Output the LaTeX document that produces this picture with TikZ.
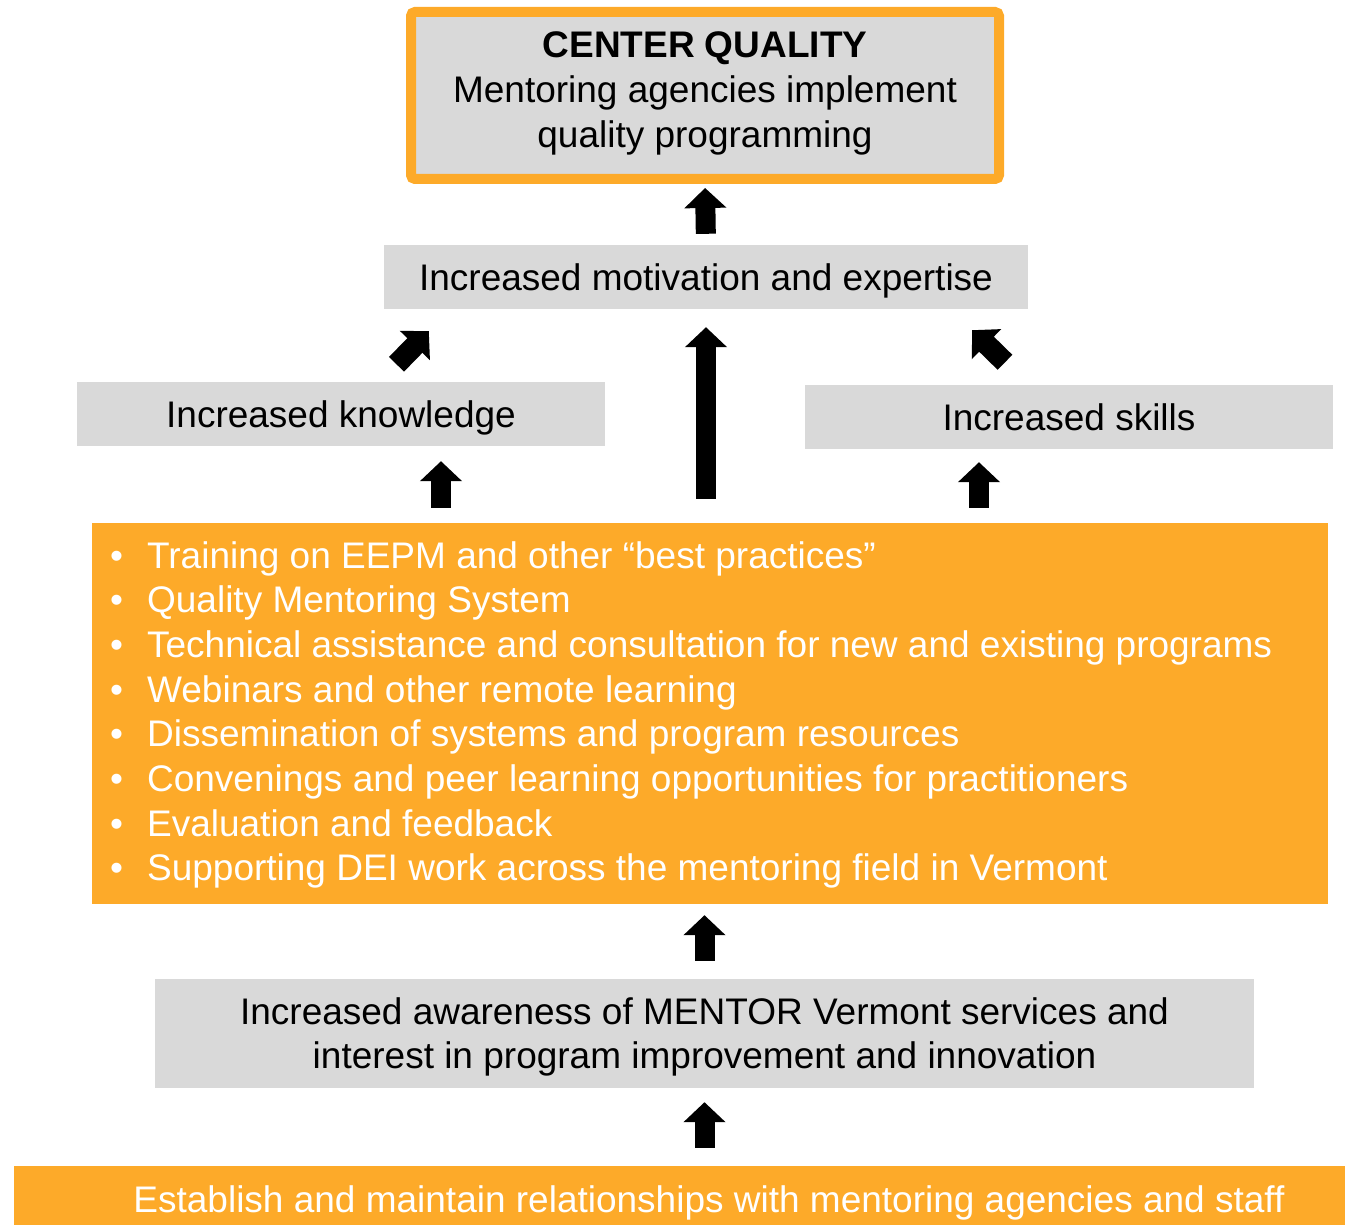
\documentclass[tikz,border=0pt]{standalone}
\usepackage{fontspec}
\setmainfont{Liberation Sans}
\usetikzlibrary{arrows.meta,calc}
\definecolor{vorange}{RGB}{253,170,41}
\definecolor{vgray}{RGB}{217,217,217}
\begin{document}
\begin{tikzpicture}[x=1pt,y=-1pt,
  graybox/.style={fill=vgray, draw=none, inner sep=0pt, align=center, text depth=0pt, font=\fontsize{37}{44}\selectfont},
  orangebox/.style={fill=vorange, draw=none, inner sep=0pt},
  blockarrow/.style={line width=20pt, -{Triangle[length=20pt,width=41pt]}},
  diagarrow/.style={line width=21pt, -{Triangle[length=20pt,width=41pt]}}]
\useasboundingbox (0,0) rectangle (1345,1225);
% top box
\node[fill=vgray, draw=vorange, line width=10pt, rounded corners=4pt, minimum width=588pt, minimum height=167pt, inner sep=0pt] (topbox) at (705,95.5) {};
\node[align=center, inner sep=0pt, font=\fontsize{37}{45}\selectfont] (toptext) at (705,93.5) {\textbf{CENTER QUALITY}\\Mentoring agencies implement\\quality programming};
% outcome boxes
\node[graybox, minimum width=644pt, minimum height=64pt] (mot) at (706,277) {Increased motivation and expertise};
\node[graybox, minimum width=528pt, minimum height=64pt] (know) at (341,414) {Increased knowledge};
\node[graybox, minimum width=528pt, minimum height=64pt] (skills) at (1069,417) {Increased skills};
% activities
\node[orangebox, minimum width=1236pt, minimum height=381pt] (acts) at (710,713.5) {};
\node[anchor=north west, inner sep=0pt, align=left, text=white, font=\fontsize{37}{44.7}\selectfont] (actstext) at (110,541)
{\textbullet\hspace{24pt}Training on EEPM and other “best practices”\\
\textbullet\hspace{24pt}Quality Mentoring System\\
\textbullet\hspace{24pt}Technical assistance and consultation for new and existing programs\\
\textbullet\hspace{24pt}Webinars and other remote learning\\
\textbullet\hspace{24pt}Dissemination of systems and program resources\\
\textbullet\hspace{24pt}Convenings and peer learning opportunities for practitioners\\
\textbullet\hspace{24pt}Evaluation and feedback\\
\textbullet\hspace{24pt}Supporting DEI work across the mentoring field in Vermont};
% awareness
\node[graybox, minimum width=1099pt, minimum height=109pt] (aware) at (704.5,1033.5) {Increased awareness of MENTOR Vermont services and\\interest in program improvement and innovation};
% bottom
\node[orangebox, minimum width=1331pt, minimum height=59pt] (base) at (679.5,1195.5) {};
\node[inner sep=0pt, text=white, font=\fontsize{37}{44}\selectfont] (basetext) at (709,1203) {Establish and maintain relationships with mentoring agencies and staff};
% arrows
\draw[blockarrow, shorten <=11pt, shorten >=4pt] (mot.north) -- (topbox.south);
\draw[blockarrow, shorten <=24pt, shorten >=18pt] (acts.north -| mot.south) -- (mot.south);
\draw[blockarrow, shorten <=15pt, shorten >=15pt] ([xshift=100pt]know.south |- acts.north) -- ([xshift=100pt]know.south);
\draw[blockarrow, shorten <=15pt, shorten >=13pt] ([xshift=-90pt]skills.south |- acts.north) -- ([xshift=-90pt]skills.south);
\draw[diagarrow] ([shift={(55.5,-17.5)}]know.north) -- ([shift={(45,22)}]mot.south west);
\draw[diagarrow] ([shift={(-64,-22.5)}]skills.north) -- ([shift={(-56,21)}]mot.south east);
\draw[blockarrow, shorten <=18pt, shorten >=11pt] (aware.north) -- (aware.north |- acts.south);
\draw[blockarrow, shorten <=18pt, shorten >=14pt] (base.north -| aware.south) -- (aware.south);
\end{tikzpicture}
\end{document}
